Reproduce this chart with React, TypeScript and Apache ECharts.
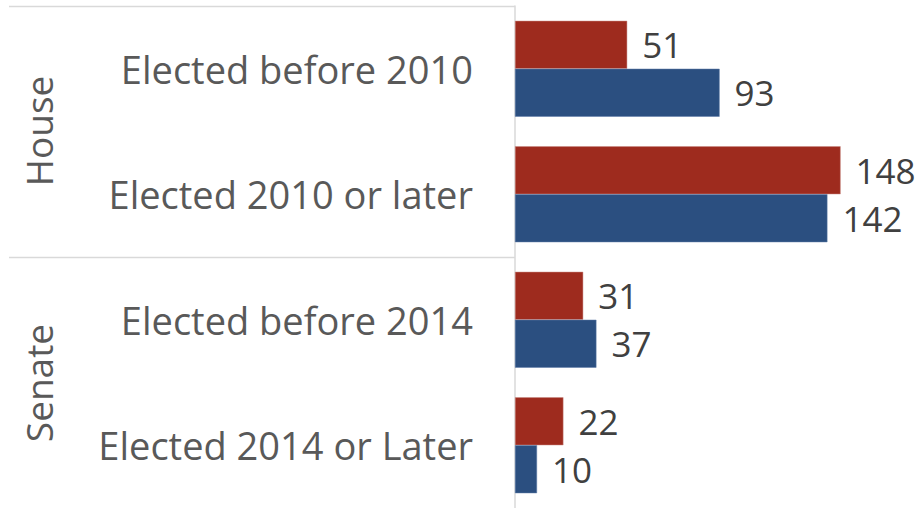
import React, { useEffect, useRef } from "react";
import * as echarts from "echarts";

const categories = [
  "Elected before 2010",
  "Elected 2010 or later",
  "Elected before 2014",
  "Elected 2014 or Later",
];
const redValues = [51, 148, 31, 22];
const blueValues = [93, 142, 37, 10];
const groups = ["House", "Senate"];

const FONT = "'Open Sans', 'Noto Sans', sans-serif";
const RED = "#9E2B1E";
const BLUE = "#2B4F80";
const LINE = "#D9D9D9";

export default function App() {
  const ref = useRef<HTMLDivElement>(null);
  useEffect(() => {
    if (!ref.current) return;
    const chart = echarts.init(ref.current, undefined, { renderer: "svg" });
    const gridLeft = 515;
    const gridTop = 6;
    const gridHeight = 503;
    const valueLabel = {
      show: true,
      position: "right",
      distance: 15,
      fontSize: 35,
      fontFamily: FONT,
      color: "#404040",
    };
    const option: any = {
      animation: false,
      backgroundColor: "#fff",
      grid: { left: gridLeft, top: gridTop, height: gridHeight, width: 396, containLabel: false },
      xAxis: {
        type: "value",
        min: 0,
        max: 180,
        show: false,
      },
      yAxis: {
        type: "category",
        data: categories,
        inverse: true,
        axisLine: { show: true, lineStyle: { color: LINE, width: 1.5 } },
        axisTick: { show: false },
        axisLabel: {
          margin: 42,
          fontSize: 38,
          fontFamily: FONT,
          color: "#595959",
        },
        splitLine: { show: false },
      },
      series: [
        {
          type: "bar",
          data: redValues,
          barGap: "0%",
          barCategoryGap: "23.6%",
          itemStyle: { color: RED, borderColor: "#C98A84", borderWidth: 0.5 },
          label: valueLabel,
        },
        {
          type: "bar",
          data: blueValues,
          barGap: "0%",
          barCategoryGap: "23.6%",
          itemStyle: { color: BLUE, borderColor: "#5C7AA6", borderWidth: 0.5 },
          label: valueLabel,
        },
      ],
      graphic: [
        {
          type: "line",
          shape: { x1: 9, y1: 6.5, x2: gridLeft, y2: 6.5 },
          style: { stroke: LINE, lineWidth: 1.5 },
        },
        {
          type: "line",
          shape: { x1: 9, y1: 257.5, x2: gridLeft, y2: 257.5 },
          style: { stroke: LINE, lineWidth: 1.5 },
        },
        {
          type: "text",
          x: 38,
          y: 131,
          rotation: Math.PI / 2,
          style: {
            text: groups[0],
            fontSize: 37,
            fontFamily: FONT,
            fill: "#595959",
            align: "center",
            verticalAlign: "middle",
          },
        },
        {
          type: "text",
          x: 38,
          y: 383,
          rotation: Math.PI / 2,
          style: {
            text: groups[1],
            fontSize: 37,
            fontFamily: FONT,
            fill: "#595959",
            align: "center",
            verticalAlign: "middle",
          },
        },
      ],
    };
    chart.setOption(option);
    return () => chart.dispose();
  }, []);
  return (
    <div
      ref={ref}
      style={{ width: 923, height: 508, position: "absolute", left: 0, top: 0 }}
    />
  );
}
